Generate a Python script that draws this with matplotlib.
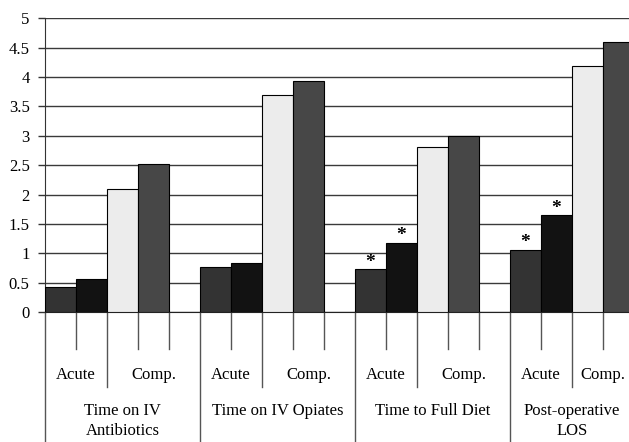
import matplotlib
matplotlib.use("Agg")
import matplotlib.pyplot as plt
import numpy as np

plt.rcParams['font.family'] = ['Liberation Serif', 'DejaVu Serif']

groups = ["Time on IV\nAntibiotics", "Time on IV Opiates", "Time to Full Diet", "Post-operative\nLOS"]
subgroups = ["Acute", "Comp."]
acute_a = [0.42, 0.76, 0.73, 1.06]
acute_b = [0.57, 0.84, 1.18, 1.65]
comp_a = [2.10, 3.70, 2.81, 4.19]
comp_b = [2.52, 3.94, 3.00, 4.60]
starred = [False, False, True, True]   # asterisco sulle barre Acute
yticks = [0, 0.5, 1, 1.5, 2, 2.5, 3, 3.5, 4, 4.5, 5]

series = [acute_a, acute_b, comp_a, comp_b]
colors = ['#333333', '#121212', '#ececec', '#474747']

W, H = 629, 442
fig = plt.figure(figsize=(W / 100, H / 100), dpi=100)
ax = fig.add_axes([45 / W, 130 / H, 589 / W, 293.7 / H])

# 4 barre per gruppo + uno slot vuoto tra i gruppi
ng = len(groups)
starts = np.arange(ng) * 5
for k, vals in enumerate(series):
    ax.bar(starts + k + 0.5, vals, width=1.0, color=colors[k],
           edgecolor='black', linewidth=0.8, zorder=3)

for g in range(ng):
    if starred[g]:
        for k in (0, 1):
            ax.text(starts[g] + k + 0.5, series[k][g] + 0.12, '*',
                    ha='center', va='center', fontsize=14, fontweight='bold', zorder=4)

ax.set_xlim(0, 19)
ax.set_ylim(0, 5)
ax.set_yticks(yticks)
ax.set_yticklabels([f"{t:g}" for t in yticks], fontsize=12)
ax.yaxis.grid(True, color='#3a3a3a', linewidth=1.0, zorder=0)
ax.set_axisbelow(True)
ax.tick_params(axis='y', length=5, width=1, color='#333333', pad=6)
ax.set_xticks([])
for s in ('top', 'right'):
    ax.spines[s].set_visible(False)
ax.spines['left'].set_color('#333333')
ax.spines['bottom'].set_color('#222222')

# asse categorie a piu' livelli
trans = ax.get_xaxis_transform()
ph = 293.7
for b in range(20):
    if b % 5 == 0:
        y1 = -0.5
    elif b % 5 == 2:
        y1 = -75 / ph
    else:
        y1 = -37 / ph
    ax.plot([b, b], [0, y1], color='#555555', linewidth=1.0,
            transform=trans, clip_on=False)

for g in range(ng):
    end = min(starts[g] + 5, 19)
    ax.text(starts[g] + 1, -63 / ph, subgroups[0], transform=trans,
            ha='center', va='center', fontsize=12)
    ax.text((starts[g] + 2 + end) / 2, -63 / ph, subgroups[1], transform=trans,
            ha='center', va='center', fontsize=12)
    ax.text((starts[g] + end) / 2, -91 / ph, groups[g], transform=trans,
            ha='center', va='top', fontsize=12, linespacing=1.35)

fig.savefig("out.png", dpi=100)
